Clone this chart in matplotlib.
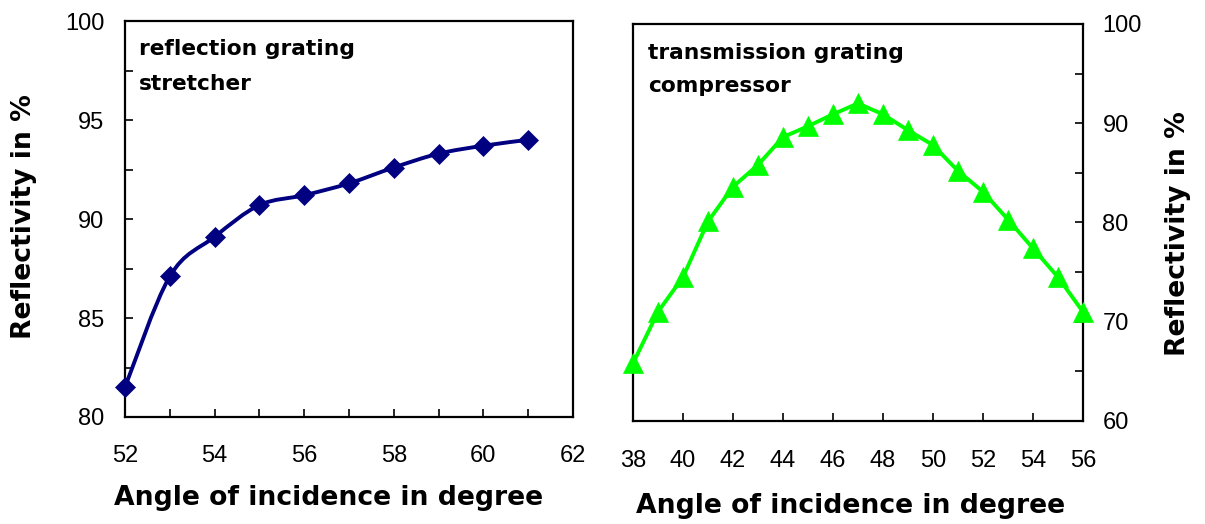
import numpy as np
import matplotlib
matplotlib.use("Agg")
import matplotlib.pyplot as plt
from matplotlib.path import Path
from matplotlib.patches import PathPatch
from matplotlib.ticker import MultipleLocator

plt.rcParams['font.family'] = ['Liberation Sans', 'DejaVu Sans']

# Reflection grating (stretcher)
stretcher_angle = [52, 53, 54, 55, 56, 57, 58, 59, 60, 61]
stretcher_refl = [81.5, 87.1, 89.1, 90.7, 91.2, 91.8, 92.6, 93.3, 93.7, 94.0]

# Transmission grating (compressor)
compressor_angle = [38, 39, 40, 41, 42, 43, 44, 45, 46, 47, 48, 49, 50, 51, 52, 53, 54, 55, 56]
compressor_refl = [65.8, 71.0, 74.5, 80.1, 83.6, 85.8, 88.6, 89.7, 90.9, 92.0,
                   90.9, 89.3, 87.8, 85.2, 83.1, 80.3, 77.4, 74.5, 71.0]

left_xticks = [52, 54, 56, 58, 60, 62]
left_yticks = [80, 85, 90, 95, 100]
right_xticks = [38, 40, 42, 44, 46, 48, 50, 52, 54, 56]
right_yticks = [60, 70, 80, 90, 100]

NAVY = '#000080'
LIME = '#00ff00'


def smooth_path(xs, ys):
    """Cardinal-spline (Catmull-Rom) curve through the points as cubic Beziers."""
    pts = np.column_stack([xs, ys]).astype(float)
    n = len(pts)
    verts = [pts[0]]
    codes = [Path.MOVETO]
    for i in range(n - 1):
        p0 = pts[i - 1] if i > 0 else pts[i]
        p1 = pts[i]
        p2 = pts[i + 1]
        p3 = pts[i + 2] if i + 2 < n else pts[i + 1]
        c1 = p1 + (p2 - p0) / 6.0
        c2 = p2 - (p3 - p1) / 6.0
        verts += [c1, c2, p2]
        codes += [Path.CURVE4] * 3
    return Path(verts, codes)


fig = plt.figure(figsize=(12.05, 5.24), dpi=100)
fig.patch.set_facecolor('white')

ax1 = fig.add_axes([0.1037, 0.2042, 0.3718, 0.7557])
ax2 = fig.add_axes([0.5253, 0.1966, 0.3734, 0.7576])

tick_font = 17
bold_family = ['DejaVu Sans']
label_kw = dict(fontsize=19.2, fontweight='bold', family=bold_family)
note_kw = dict(fontsize=15.7, fontweight='bold', family=bold_family,
               va='baseline', ha='left')

# ---- left panel ----
ax1.add_patch(PathPatch(smooth_path(stretcher_angle, stretcher_refl),
                        facecolor='none', edgecolor=NAVY, lw=2.8,
                        transform=ax1.transData, zorder=2, clip_on=False))
ax1.plot(stretcher_angle, stretcher_refl, linestyle='none', marker='D',
         ms=10.5, mfc=NAVY, mec=NAVY, mew=0.5, zorder=3, clip_on=False)
ax1.set_xlim(52, 62)
ax1.set_ylim(80, 100)
ax1.set_xticks(left_xticks)
ax1.set_yticks(left_yticks)
ax1.xaxis.set_minor_locator(MultipleLocator(1))
ax1.yaxis.set_minor_locator(MultipleLocator(2.5))
ax1.tick_params(axis='both', which='both', direction='in', length=5.5, width=1.2,
                labelsize=tick_font)
ax1.tick_params(axis='x', which='major', pad=20)
ax1.tick_params(axis='y', which='major', pad=15)
ax1.set_xlabel('Angle of incidence in degree', **label_kw)
ax1.set_ylabel('Reflectivity in %', **label_kw)
ax1.xaxis.label.set_va('baseline')
ax1.yaxis.label.set_va('center')
ax1.xaxis.set_label_coords(0.4554, -0.2222)
ax1.yaxis.set_label_coords(-0.2254, 0.505)
ax1.text(0.031, 0.914, 'reflection grating', transform=ax1.transAxes, **note_kw)
ax1.text(0.031, 0.826, 'stretcher', transform=ax1.transAxes, **note_kw)

# ---- right panel ----
ax2.plot(compressor_angle, compressor_refl, color=LIME, lw=2.8, marker='^',
         ms=14.5, mfc=LIME, mec=LIME, mew=0.5, zorder=3, clip_on=False)
ax2.set_xlim(38, 56)
ax2.set_ylim(60, 100)
ax2.set_xticks(right_xticks)
ax2.set_yticks(right_yticks)
ax2.yaxis.set_minor_locator(MultipleLocator(5))
ax2.yaxis.tick_right()
ax2.yaxis.set_label_position('right')
ax2.tick_params(axis='both', which='both', direction='in', length=5.5, width=1.2,
                labelsize=tick_font)
ax2.tick_params(axis='x', which='major', pad=21)
ax2.tick_params(axis='y', which='major', pad=14)
ax2.set_xlabel('Angle of incidence in degree', **label_kw)
ax2.set_ylabel('Reflectivity in %', rotation=90, **label_kw)
ax2.xaxis.label.set_va('baseline')
ax2.yaxis.label.set_va('center')
ax2.xaxis.set_label_coords(0.4844, -0.2317)
ax2.yaxis.set_label_coords(1.2111, 0.471)
ax2.text(0.033, 0.912, 'transmission grating', transform=ax2.transAxes, **note_kw)
ax2.text(0.033, 0.829, 'compressor', transform=ax2.transAxes, **note_kw)

for ax in (ax1, ax2):
    for sp in ax.spines.values():
        sp.set_linewidth(1.6)
        sp.set_color('black')

fig.savefig('out.png', dpi=100, facecolor='white')
